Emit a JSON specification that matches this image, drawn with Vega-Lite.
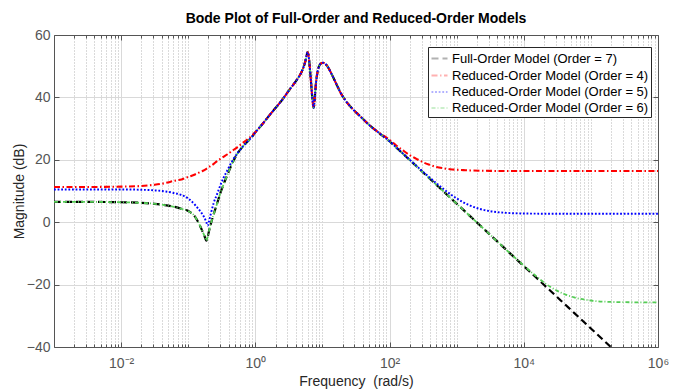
{
  "$schema": "https://vega.github.io/schema/vega-lite/v6.json",
  "autosize": "none",
  "width": 604,
  "height": 312,
  "padding": {"left": 54, "top": 35, "right": 19, "bottom": 42},
  "background": "white",
  "config": {"font": "Liberation Sans", "view": {"stroke": null}},
  "title": {"text": "Bode Plot of Full-Order and Reduced-Order Models", "fontSize": 14, "fontWeight": "bold", "color": "#000000", "anchor": "middle", "offset": 2},
  "data": {"values": [
    {"w": 0.001, "full": 6.5, "r4": 11.3, "r5": 10.5, "r6": 6.5},
    {"w": 0.003162, "full": 6.5, "r4": 11.3, "r5": 10.5, "r6": 6.5},
    {"w": 0.01, "full": 6.4, "r4": 11.4, "r5": 10.5, "r6": 6.4},
    {"w": 0.01995, "full": 6.2, "r4": 11.6, "r5": 10.4, "r6": 6.2},
    {"w": 0.03162, "full": 5.9, "r4": 12.0, "r5": 10.2, "r6": 5.9},
    {"w": 0.04467, "full": 5.5, "r4": 12.5, "r5": 9.9, "r6": 5.5},
    {"w": 0.0631, "full": 4.9, "r4": 13.3, "r5": 9.3, "r6": 4.9},
    {"w": 0.07943, "full": 4.3, "r4": 13.7, "r5": 8.7, "r6": 4.3},
    {"w": 0.1, "full": 3.6, "r4": 14.5, "r5": 7.6, "r6": 3.6},
    {"w": 0.1259, "full": 1.8, "r4": 15.3, "r5": 5.6, "r6": 1.8},
    {"w": 0.1413, "full": 0.0, "r4": 15.8, "r5": 4.3, "r6": 0.0},
    {"w": 0.1585, "full": -2.3, "r4": 16.3, "r5": 2.9, "r6": -2.3},
    {"w": 0.1738, "full": -4.3, "r4": 16.7, "r5": 1.5, "r6": -4.3},
    {"w": 0.1862, "full": -5.9, "r4": 17.1, "r5": 0.0, "r6": -5.9},
    {"w": 0.195, "full": -4.7, "r4": 17.4, "r5": -1.1, "r6": -4.7},
    {"w": 0.2042, "full": -2.8, "r4": 17.7, "r5": 0.3, "r6": -2.8},
    {"w": 0.2188, "full": -0.3, "r4": 18.1, "r5": 3.0, "r6": -0.3},
    {"w": 0.2399, "full": 2.6, "r4": 18.7, "r5": 6.2, "r6": 2.6},
    {"w": 0.2692, "full": 6.0, "r4": 19.6, "r5": 9.0, "r6": 6.0},
    {"w": 0.302, "full": 9.4, "r4": 20.3, "r5": 11.9, "r6": 9.4},
    {"w": 0.3388, "full": 12.3, "r4": 21.0, "r5": 14.4, "r6": 12.3},
    {"w": 0.3802, "full": 15.0, "r4": 21.7, "r5": 16.5, "r6": 15.0},
    {"w": 0.4467, "full": 18.6, "r4": 22.8, "r5": 19.4, "r6": 18.6},
    {"w": 0.537, "full": 21.9, "r4": 24.0, "r5": 22.0, "r6": 21.9},
    {"w": 0.631, "full": 23.9, "r4": 25.2, "r5": 23.9, "r6": 23.9},
    {"w": 0.7586, "full": 25.8, "r4": 26.5, "r5": 25.8, "r6": 25.8},
    {"w": 0.8913, "full": 27.4, "r4": 27.8, "r5": 27.4, "r6": 27.4},
    {"w": 1, "full": 28.8, "r4": 28.8, "r5": 28.8, "r6": 28.8},
    {"w": 1.259, "full": 31.3, "r4": 31.3, "r5": 31.3, "r6": 31.3},
    {"w": 1.585, "full": 34.0, "r4": 34.0, "r5": 34.0, "r6": 34.0},
    {"w": 1.995, "full": 36.6, "r4": 36.6, "r5": 36.6, "r6": 36.6},
    {"w": 2.512, "full": 39.2, "r4": 39.2, "r5": 39.2, "r6": 39.2},
    {"w": 3.162, "full": 42.2, "r4": 42.2, "r5": 42.2, "r6": 42.2},
    {"w": 3.802, "full": 44.5, "r4": 44.5, "r5": 44.5, "r6": 44.5},
    {"w": 4.365, "full": 46.3, "r4": 46.3, "r5": 46.3, "r6": 46.3},
    {"w": 4.898, "full": 48.2, "r4": 48.2, "r5": 48.2, "r6": 48.2},
    {"w": 5.248, "full": 49.8, "r4": 49.8, "r5": 49.8, "r6": 49.8},
    {"w": 5.559, "full": 51.6, "r4": 51.6, "r5": 51.6, "r6": 51.6},
    {"w": 5.821, "full": 53.6, "r4": 53.6, "r5": 53.6, "r6": 53.6},
    {"w": 5.998, "full": 54.5, "r4": 54.5, "r5": 54.5, "r6": 54.5},
    {"w": 6.166, "full": 53.8, "r4": 53.8, "r5": 53.8, "r6": 53.8},
    {"w": 6.31, "full": 52.2, "r4": 52.2, "r5": 52.2, "r6": 52.2},
    {"w": 6.531, "full": 48.8, "r4": 48.8, "r5": 48.8, "r6": 48.8},
    {"w": 6.761, "full": 44.8, "r4": 44.8, "r5": 44.8, "r6": 44.8},
    {"w": 6.998, "full": 40.8, "r4": 40.8, "r5": 40.8, "r6": 40.8},
    {"w": 7.244, "full": 37.6, "r4": 37.6, "r5": 37.6, "r6": 37.6},
    {"w": 7.396, "full": 36.7, "r4": 36.7, "r5": 36.7, "r6": 36.7},
    {"w": 7.551, "full": 37.8, "r4": 37.8, "r5": 37.8, "r6": 37.8},
    {"w": 7.762, "full": 41.0, "r4": 41.0, "r5": 41.0, "r6": 41.0},
    {"w": 8.035, "full": 44.8, "r4": 44.8, "r5": 44.8, "r6": 44.8},
    {"w": 8.414, "full": 48.0, "r4": 48.0, "r5": 48.0, "r6": 48.0},
    {"w": 8.913, "full": 50.0, "r4": 50.0, "r5": 50.0, "r6": 50.0},
    {"w": 9.55, "full": 50.9, "r4": 50.9, "r5": 50.9, "r6": 50.9},
    {"w": 10.23, "full": 51.1, "r4": 51.1, "r5": 51.1, "r6": 51.1},
    {"w": 10.96, "full": 50.8, "r4": 50.8, "r5": 50.8, "r6": 50.8},
    {"w": 12.02, "full": 49.8, "r4": 49.8, "r5": 49.8, "r6": 49.8},
    {"w": 13.18, "full": 48.2, "r4": 48.2, "r5": 48.2, "r6": 48.2},
    {"w": 14.79, "full": 46.0, "r4": 46.0, "r5": 46.0, "r6": 46.0},
    {"w": 16.6, "full": 43.7, "r4": 43.7, "r5": 43.7, "r6": 43.7},
    {"w": 18.62, "full": 41.5, "r4": 41.5, "r5": 41.5, "r6": 41.5},
    {"w": 22.39, "full": 38.8, "r4": 38.8, "r5": 38.8, "r6": 38.8},
    {"w": 28.18, "full": 36.3, "r4": 36.3, "r5": 36.3, "r6": 36.3},
    {"w": 36.31, "full": 34.0, "r4": 34.0, "r5": 34.0, "r6": 34.0},
    {"w": 50.12, "full": 31.1, "r4": 31.1, "r5": 31.1, "r6": 31.1},
    {"w": 70.79, "full": 28.5, "r4": 28.6, "r5": 28.5, "r6": 28.5},
    {"w": 100, "full": 25.94, "r4": 26.4, "r5": 25.95, "r6": 25.94},
    {"w": 125.9, "full": 23.94, "r4": 24.6, "r5": 23.98, "r6": 23.94},
    {"w": 158.5, "full": 21.94, "r4": 23.0, "r5": 21.99, "r6": 21.94},
    {"w": 199.5, "full": 19.94, "r4": 21.5, "r5": 20.03, "r6": 19.94},
    {"w": 251.2, "full": 17.94, "r4": 20.3, "r5": 18.07, "r6": 17.94},
    {"w": 316.2, "full": 15.94, "r4": 19.2, "r5": 16.15, "r6": 15.94},
    {"w": 398.1, "full": 13.94, "r4": 18.4, "r5": 14.26, "r6": 13.94},
    {"w": 501.2, "full": 11.94, "r4": 17.7, "r5": 12.45, "r6": 11.94},
    {"w": 631, "full": 9.94, "r4": 17.3, "r5": 10.7, "r6": 9.94},
    {"w": 794.3, "full": 7.94, "r4": 17.0, "r5": 9.07, "r6": 7.94},
    {"w": 1000, "full": 5.94, "r4": 16.8, "r5": 7.63, "r6": 5.94},
    {"w": 1259, "full": 3.94, "r4": 16.7, "r5": 6.38, "r6": 3.94},
    {"w": 1585, "full": 1.94, "r4": 16.6, "r5": 5.34, "r6": 1.94},
    {"w": 2239, "full": -1.06, "r4": 16.5, "r5": 4.22, "r6": -1.06},
    {"w": 3162, "full": -4.06, "r4": 16.45, "r5": 3.53, "r6": -4.06},
    {"w": 5623, "full": -9.06, "r4": 16.4, "r5": 2.98, "r6": -9.06},
    {"w": 10000, "full": -14.06, "r4": 16.4, "r5": 2.79, "r6": -13.9},
    {"w": 15850, "full": -18.06, "r4": 16.4, "r5": 2.74, "r6": -17.6},
    {"w": 19950, "full": -20.06, "r4": 16.4, "r5": 2.72, "r6": -19.3},
    {"w": 25120, "full": -22.06, "r4": 16.4, "r5": 2.71, "r6": -20.8},
    {"w": 31620, "full": -24.06, "r4": 16.4, "r5": 2.71, "r6": -22.0},
    {"w": 39810, "full": -26.06, "r4": 16.4, "r5": 2.7, "r6": -23.0},
    {"w": 56230, "full": -29.06, "r4": 16.4, "r5": 2.7, "r6": -24.1},
    {"w": 100000, "full": -34.06, "r4": 16.4, "r5": 2.7, "r6": -25.1},
    {"w": 199500, "full": -40.06, "r4": 16.4, "r5": 2.7, "r6": -25.55},
    {"w": 398100, "full": -46.06, "r4": 16.4, "r5": 2.7, "r6": -25.66},
    {"w": 1000000, "full": -54.06, "r4": 16.4, "r5": 2.7, "r6": -25.7}
  ]},
  "layer": [
    {
      "mark": {"type": "point", "opacity": 0},
      "encoding": {
        "x": {"field": "w", "type": "quantitative",
          "scale": {"type": "log", "domain": [0.001, 1000000], "nice": false},
          "axis": {"orient": "bottom", "values": [0.002,0.003,0.004,0.005,0.006,0.007,0.008,0.009,0.02,0.03,0.04,0.05,0.06,0.07,0.08,0.09,0.1,0.2,0.3,0.4,0.5,0.6,0.7,0.8,0.9,2,3,4,5,6,7,8,9,10,20,30,40,50,60,70,80,90,200,300,400,500,600,700,800,900,1000,2000,3000,4000,5000,6000,7000,8000,9000,20000,30000,40000,50000,60000,70000,80000,90000,100000,200000,300000,400000,500000,600000,700000,800000,900000],
            "grid": true, "gridColor": "#b4b4b4", "gridDash": [1, 2], "gridWidth": 1,
            "labels": false, "ticks": true, "tickSize": -3, "tickColor": "#555555", "domain": false, "title": null}},
        "y": {"field": "full", "type": "quantitative", "scale": {"domain": [-40, 60], "nice": false},
          "axis": {"orient": "left", "values": [-40, -20, 0, 20, 40, 60], "grid": false, "labels": false, "ticks": true, "tickSize": -5, "tickColor": "#555555", "domain": false, "title": null}}
      }
    },
    {
      "mark": {"type": "point", "opacity": 0},
      "encoding": {
        "x": {"field": "w", "type": "quantitative",
          "scale": {"type": "log", "domain": [0.001, 1000000], "nice": false},
          "axis": {"orient": "bottom", "values": [0.01, 1, 100, 10000], "grid": false, "labels": false, "ticks": true, "tickSize": -5, "tickColor": "#555555", "domain": false, "title": null}},
        "y": {"field": "full", "type": "quantitative", "scale": {"domain": [-40, 60], "nice": false},
          "axis": {"orient": "right", "values": [-40, -20, 0, 20, 40, 60], "grid": false, "labels": false, "ticks": true, "tickSize": -5, "tickColor": "#555555", "domain": true, "domainColor": "#555555", "title": null}}
      }
    },
    {
      "mark": {"type": "point", "opacity": 0},
      "encoding": {
        "x": {"field": "w", "type": "quantitative",
          "scale": {"type": "log", "domain": [0.001, 1000000], "nice": false},
          "axis": {"orient": "top", "values": [0.002,0.003,0.004,0.005,0.006,0.007,0.008,0.009,0.02,0.03,0.04,0.05,0.06,0.07,0.08,0.09,0.1,0.2,0.3,0.4,0.5,0.6,0.7,0.8,0.9,2,3,4,5,6,7,8,9,10,20,30,40,50,60,70,80,90,200,300,400,500,600,700,800,900,1000,2000,3000,4000,5000,6000,7000,8000,9000,20000,30000,40000,50000,60000,70000,80000,90000,100000,200000,300000,400000,500000,600000,700000,800000,900000],
            "grid": false, "labels": false, "ticks": true, "tickSize": -3, "tickColor": "#555555", "domain": false, "title": null}},
        "y": {"field": "full", "type": "quantitative", "scale": {"domain": [-40, 60], "nice": false}, "axis": null}
      }
    },
    {
      "mark": {"type": "point", "opacity": 0},
      "encoding": {
        "x": {"field": "w", "type": "quantitative",
          "scale": {"type": "log", "domain": [0.001, 1000000], "nice": false},
          "axis": {"orient": "top", "values": [0.01, 1, 100, 10000], "grid": false, "labels": false, "ticks": true, "tickSize": -5, "tickColor": "#555555", "domain": true, "domainColor": "#555555", "title": null}},
        "y": {"field": "full", "type": "quantitative", "scale": {"domain": [-40, 60], "nice": false}, "axis": null}
      }
    },
    {
      "transform": [
        {"fold": ["full", "r6", "r4", "r5"], "as": ["series", "mag"]},
        {"filter": "isValid(datum.mag)"}
      ],
      "mark": {"type": "line", "clip": true, "interpolate": "monotone", "strokeCap": "butt"},
      "encoding": {
        "x": {"field": "w", "type": "quantitative",
          "scale": {"type": "log", "domain": [0.001, 1000000], "nice": false},
          "axis": {"orient": "bottom", "values": [0.01, 1, 100, 10000, 1000000],
            "labelExpr": "datum.value < 0.1 ? '10⁻²' : datum.value < 10 ? '10⁰' : datum.value < 1000 ? '10²' : datum.value < 100000 ? '10⁴' : '10⁶'",
            "ticks": false, "grid": true, "gridColor": "#d9d9d9", "gridWidth": 1,
            "domain": true, "domainColor": "#555555", "labelColor": "#555555", "labelFontSize": 14, "labelPadding": 9, "labelFlush": false, "labelOverlap": false,
            "title": "Frequency\u00a0 (rad/s)", "titleFontSize": 14, "titleFontWeight": "normal", "titleColor": "#262626", "titlePadding": 4}},
        "y": {"field": "mag", "type": "quantitative", "scale": {"domain": [-40, 60], "nice": false},
          "axis": {"orient": "left", "values": [-40, -20, 0, 20, 40, 60], "ticks": false, "grid": true, "gridColor": "#d9d9d9", "gridWidth": 1,
            "domain": true, "domainColor": "#555555", "labelColor": "#555555", "labelFontSize": 14, "labelPadding": 4,
            "title": "Magnitude (dB)", "titleFontSize": 14, "titleFontWeight": "normal", "titleColor": "#262626", "titlePadding": 0}},
        "color": {"field": "series", "type": "nominal",
          "scale": {"domain": ["full", "r4", "r5", "r6"], "range": ["#000000", "#ff0000", "#0000ff", "#55cc55"]},
          "legend": {"orient": "none", "legendX": 374, "legendY": 12, "title": null, "direction": "vertical",
            "fillColor": "#ffffff", "strokeColor": "#262626", "padding": 2,
            "labelFontSize": 13, "labelColor": "#000000", "labelOffset": 3, "labelLimit": 400,
            "symbolType": "stroke", "symbolSize": 256, "symbolStrokeWidth": 1, "symbolOpacity": 0.3, "rowPadding": 0,
            "labelExpr": "datum.label == 'full' ? 'Full-Order Model (Order = 7)' : datum.label == 'r4' ? 'Reduced-Order Model (Order = 4)' : datum.label == 'r5' ? 'Reduced-Order Model (Order = 5)' : 'Reduced-Order Model (Order = 6)'"}},
        "strokeDash": {"field": "series", "type": "nominal",
          "scale": {"domain": ["full", "r4", "r5", "r6"], "range": [[7, 4], [6, 2.5, 1.5, 2.5], [1.8, 1.8], [4, 2, 1, 2]]},
          "legend": {"orient": "none", "legendX": 374, "legendY": 12, "title": null, "direction": "vertical",
            "fillColor": "#ffffff", "strokeColor": "#262626", "padding": 2,
            "labelFontSize": 13, "labelColor": "#000000", "labelOffset": 3, "labelLimit": 400,
            "symbolType": "stroke", "symbolSize": 256, "symbolStrokeWidth": 1, "symbolOpacity": 0.3, "rowPadding": 0,
            "labelExpr": "datum.label == 'full' ? 'Full-Order Model (Order = 7)' : datum.label == 'r4' ? 'Reduced-Order Model (Order = 4)' : datum.label == 'r5' ? 'Reduced-Order Model (Order = 5)' : 'Reduced-Order Model (Order = 6)'"}},
        "strokeWidth": {"field": "series", "type": "ordinal",
          "scale": {"domain": ["full", "r4", "r5", "r6"], "range": [2.2, 1.8, 2, 1]}, "legend": null}
      }
    }
  ],
  "resolve": {"axis": {"x": "independent", "y": "independent"}}
}
